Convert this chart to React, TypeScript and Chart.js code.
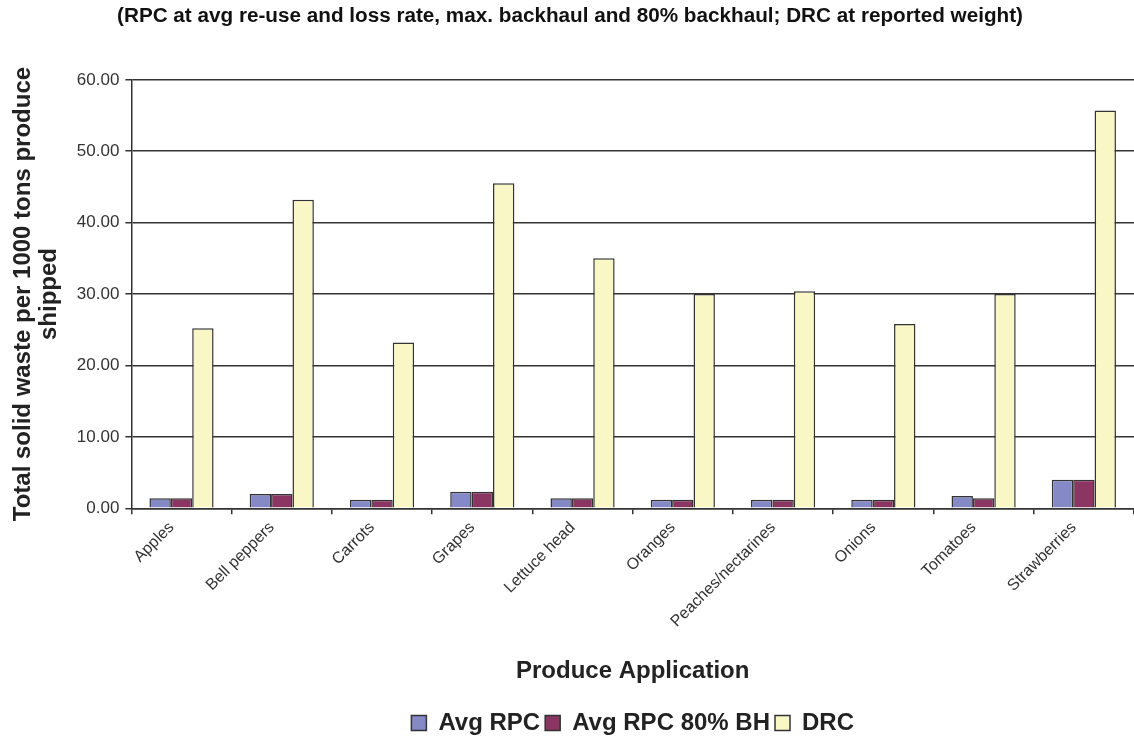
import React, { useEffect, useRef } from "react";
import { Chart, registerables } from "chart.js";

Chart.register(...registerables);

const categories = [
  "Apples",
  "Bell peppers",
  "Carrots",
  "Grapes",
  "Lettuce head",
  "Oranges",
  "Peaches/nectarines",
  "Onions",
  "Tomatoes",
  "Strawberries",
];
const avgRpc = [1.4, 2.0, 1.2, 2.3, 1.4, 1.2, 1.2, 1.2, 1.7, 4.0];
const avgRpc80 = [1.4, 2.0, 1.2, 2.3, 1.4, 1.2, 1.2, 1.2, 1.4, 4.0];
const drc = [25.2, 43.2, 23.2, 45.5, 35.0, 30.0, 30.4, 25.8, 30.0, 55.7];

const titleText =
  "(RPC at avg re-use and loss rate, max. backhaul and 80% backhaul; DRC at reported weight)";
const yTitle = ["Total solid waste per 1000 tons produce", "shipped"];
const xTitle = "Produce Application";

const FONT = "Arial, 'Liberation Sans', sans-serif";

export default function App() {
  const canvasRef = useRef<HTMLCanvasElement | null>(null);

  useEffect(() => {
    if (!canvasRef.current) return;
    const chart = new Chart(canvasRef.current, {
      type: "bar",
      data: {
        labels: categories,
        datasets: [
          {
            label: "Avg RPC",
            data: avgRpc,
            backgroundColor: "#8589c6",
            borderColor: "#333333",
            borderWidth: 1.5,
          },
          {
            label: "Avg RPC 80% BH",
            data: avgRpc80,
            backgroundColor: "#8a3562",
            borderColor: "#333333",
            borderWidth: 1.5,
          },
          {
            label: "DRC",
            data: drc,
            backgroundColor: "#f9f7c6",
            borderColor: "#333333",
            borderWidth: 1.5,
          },
        ],
      },
      options: {
        animation: false,
        responsive: true,
        maintainAspectRatio: false,
        datasets: {
          bar: { categoryPercentage: 0.64, barPercentage: 1 },
        },
        layout: { padding: { top: 0, right: 0, left: 6, bottom: -5 } },
        plugins: {
          title: {
            display: true,
            text: titleText,
            color: "#111111",
            font: { family: FONT, size: 20.7, weight: "bold" },
            padding: { top: 4, bottom: 51 },
          },
          legend: {
            position: "bottom",
            fullSize: false,
            labels: {
              color: "#222222",
              boxWidth: 15,
              boxHeight: 15,
              padding: 5,
              font: { family: FONT, size: 24, weight: "bold" },
            },
          },
          tooltip: { enabled: false },
        },
        scales: {
          x: {
            grid: {
              drawOnChartArea: false,
              drawTicks: true,
              tickLength: 6,
              color: "#333333",
              lineWidth: 1.5,
            },
            border: { display: true, color: "#333333", width: 1.5 },
            ticks: {
              color: "#333333",
              minRotation: 45,
              maxRotation: 45,
              padding: 4,
              labelOffset: -10,
              font: { family: FONT, size: 16 },
            },
            title: {
              display: true,
              text: xTitle,
              color: "#222222",
              font: { family: FONT, size: 24, weight: "bold" },
              padding: { top: 22, bottom: 20 },
            },
          },
          y: {
            min: 0,
            max: 60,
            ticks: {
              stepSize: 10,
              color: "#333333",
              padding: 6,
              font: { family: FONT, size: 17 },
              callback: (v: any) => Number(v).toFixed(2),
            },
            grid: {
              color: "#333333",
              lineWidth: 1.5,
              tickLength: 6,
            },
            border: { display: true, color: "#333333", width: 1.5 },
            title: {
              display: true,
              text: yTitle,
              color: "#222222",
              font: { family: FONT, size: 24, weight: "bold", lineHeight: 1.08 },
              padding: { top: 4, bottom: 9 },
            },
          },
        },
      },
    });
    return () => chart.destroy();
  }, []);

  return (
    <div
      style={{
        position: "absolute",
        left: 0,
        top: 0,
        width: 1134,
        height: 740,
        background: "#ffffff",
      }}
    >
      <canvas ref={canvasRef} />
    </div>
  );
}
